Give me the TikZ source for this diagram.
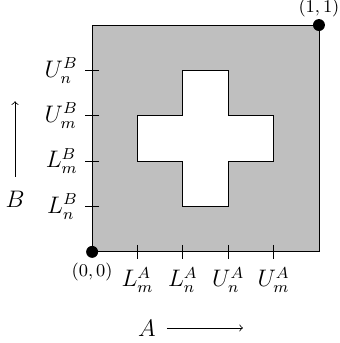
\documentclass[tikz,border=0pt]{standalone}
\begin{document}
\begin{tikzpicture}[x=4cm,y=4cm,
  tick/.style={line width=0.5pt},
  dot/.style={circle,fill=black,inner sep=0pt,minimum size=6pt},
  corner/.style={font=\small},
  lab/.style={font=\large,inner sep=1pt}]
\useasboundingbox (-0.4062,-0.4018) rectangle (1.0905,1.1104);
\filldraw[fill=lightgray] (0,0) rectangle (1,1);
\filldraw[fill=white] (0.4,0.2) -- (0.6,0.2) -- (0.6,0.4) -- (0.8,0.4) -- (0.8,0.6)
  -- (0.6,0.6) -- (0.6,0.8) -- (0.4,0.8) -- (0.4,0.6) -- (0.2,0.6) -- (0.2,0.4)
  -- (0.4,0.4) -- cycle;
\foreach \x/\t [count=\i] in {0.2/L_m^A, 0.4/L_n^A, 0.6/U_n^A, 0.8/U_m^A}{
  \coordinate (xt\i) at (\x,0);
  \draw[tick] ([yshift=3.5pt]xt\i) -- ([yshift=-3.5pt]xt\i) node[lab,below=3pt] (xl\i) {$\t$};
}
\foreach \y/\t [count=\i] in {0.2/L_n^B, 0.4/L_m^B, 0.6/U_m^B, 0.8/U_n^B}{
  \coordinate (yt\i) at (0,\y);
  \draw[tick] ([xshift=3.5pt]yt\i) -- ([xshift=-3.5pt]yt\i) node[lab,left=2.5pt] (yl\i) {$\t$};
}
\node[dot] (o) at (0,0) {};
\node[dot] (e) at (1,1) {};
\node[corner,below=2pt] (ol) at (0,0) {(0,\,0)};
\node[corner,above=0.5pt] (el) at (1,1) {(1,\,1)};
\node[lab] (A) at (0.2415,-0.3355) {$A$};
\coordinate (a1) at (0.330,-0.3355);
\coordinate (a2) at (0.665,-0.3355);
\draw[->] (a1) -- (a2);
\node[lab] (B) at (-0.340,0.230) {$B$};
\coordinate (b1) at (-0.340,0.332);
\coordinate (b2) at (-0.340,0.664);
\draw[->] (b1) -- (b2);
\end{tikzpicture}
\end{document}
